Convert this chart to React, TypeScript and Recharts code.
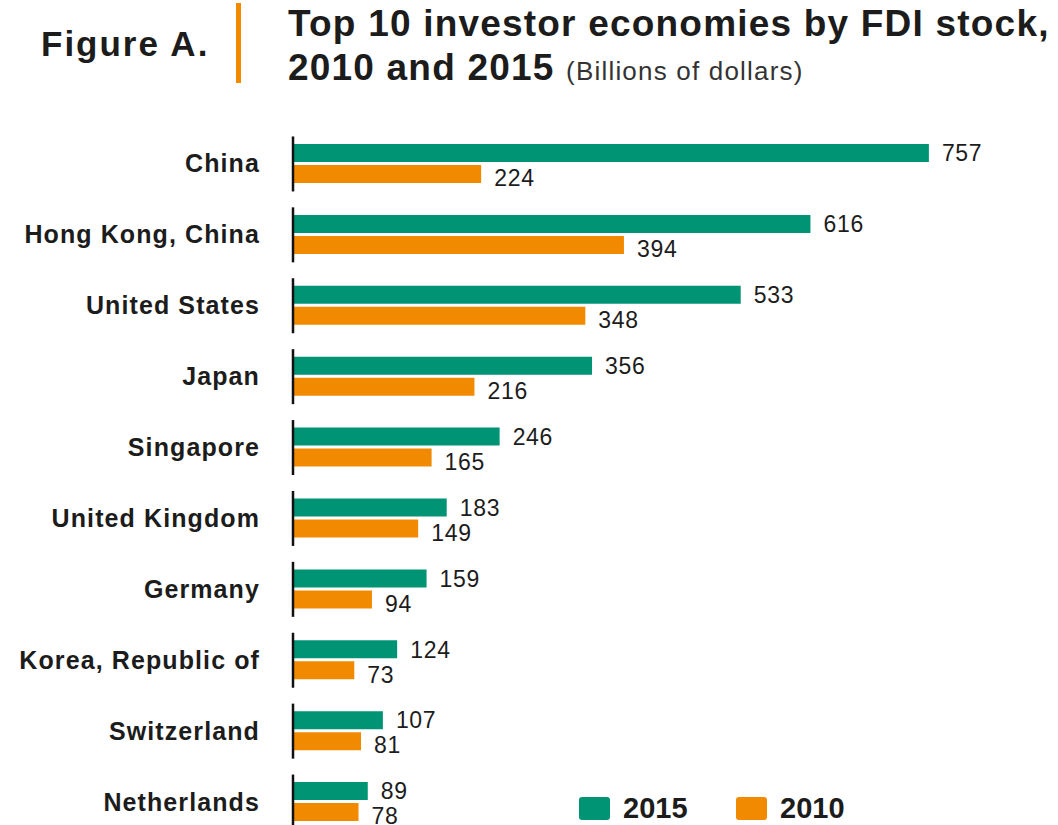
import React from "react";
import { BarChart, Bar, XAxis, YAxis, LabelList } from "recharts";

const economies = [
  "China",
  "Hong Kong, China",
  "United States",
  "Japan",
  "Singapore",
  "United Kingdom",
  "Germany",
  "Korea, Republic of",
  "Switzerland",
  "Netherlands",
];
const stock2015 = [757, 616, 533, 356, 246, 183, 159, 124, 107, 89];
const stock2010 = [224, 394, 348, 216, 165, 149, 94, 73, 81, 78];
const seriesNames = ["2015", "2010"];

const GREEN = "#009474";
const ORANGE = "#F28A00";
const INK = "#1c1c1c";
const FONT = "'Liberation Sans', Arial, Helvetica, sans-serif";
const LABEL_GAP = 33;

const data = economies.map((name, i) => ({
  name,
  y2015: stock2015[i],
  y2010: stock2010[i],
}));

function CategoryTick(props: any) {
  const { x, y, payload } = props;
  const axisX = x + LABEL_GAP;
  return (
    <g>
      <line x1={axisX} x2={axisX} y1={y - 27} y2={y + 28} stroke="#111" strokeWidth={2.5} />
      <text
        x={x}
        y={y}
        dy="0.36em"
        textAnchor="end"
        fontFamily={FONT}
        fontWeight="bold"
        fontSize={25}
        letterSpacing={1.1}
        fill={INK}
      >
        {payload.value}
      </text>
    </g>
  );
}

const valueLabel = (dy: number) => (props: any) => {
  const vb = props.viewBox ?? props;
  const x = (vb.x ?? props.x) as number;
  const y = (vb.y ?? props.y) as number;
  const w = (vb.width ?? props.width) as number;
  const h = (vb.height ?? props.height) as number;
  return (
    <text
      x={x + w + 13}
      y={y + h / 2 + dy}
      dy="0.36em"
      fontFamily={FONT}
      fontSize={23}
      letterSpacing={0.7}
      fill={INK}
    >
      {props.value}
    </text>
  );
};

function LegendBox({ color, label, left }: { color: string; label: string; left: number }) {
  return (
    <div style={{ position: "absolute", left, top: 795, display: "flex", alignItems: "center", lineHeight: "26px" }}>
      <div style={{ width: 31, height: 23, background: color, borderRadius: 3, marginRight: 13 }} />
      <span style={{ fontFamily: FONT, fontWeight: "bold", fontSize: 29, color: INK }}>{label}</span>
    </div>
  );
}

export default function App() {
  return (
    <div
      style={{
        position: "absolute",
        left: 0,
        top: 0,
        width: 1058,
        height: 825,
        overflow: "hidden",
        background: "#fff",
      }}
    >
      <div
        style={{
          position: "absolute",
          left: 41,
          top: 24,
          fontFamily: FONT,
          fontWeight: "bold",
          fontSize: 35,
          letterSpacing: 2,
          color: INK,
        }}
      >
        Figure A.
      </div>
      <div style={{ position: "absolute", left: 236, top: 3, width: 5, height: 80, background: ORANGE }} />
      <div
        style={{
          position: "absolute",
          left: 288,
          top: 2,
          fontFamily: FONT,
          fontWeight: "bold",
          fontSize: 37,
          lineHeight: "44px",
          letterSpacing: 1.2,
          color: INK,
          whiteSpace: "nowrap",
        }}
      >
        Top 10 investor economies by FDI stock,
        <br />
        2010 and 2015{" "}
        <span style={{ fontWeight: "normal", fontSize: 26, letterSpacing: 1.2, color: "#333" }}>
          (Billions of dollars)
        </span>
      </div>

      <div style={{ position: "absolute", left: 0, top: 0 }}>
        <BarChart
          width={1058}
          height={850}
          data={data}
          layout="vertical"
          margin={{ top: 128, right: 9, bottom: 13, left: 0 }}
          barSize={18}
          barGap={3}
        >
          <XAxis type="number" domain={[0, 900]} hide />
          <YAxis
            type="category"
            dataKey="name"
            width={293}
            axisLine={false}
            tickLine={false}
            tickSize={0}
            tickMargin={LABEL_GAP}
            interval={0}
            tick={CategoryTick}
          />
          <Bar dataKey="y2015" name={seriesNames[0]} fill={GREEN} isAnimationActive={false}>
            <LabelList dataKey="y2015" content={valueLabel(0)} />
          </Bar>
          <Bar dataKey="y2010" name={seriesNames[1]} fill={ORANGE} isAnimationActive={false}>
            <LabelList dataKey="y2010" content={valueLabel(4)} />
          </Bar>
        </BarChart>
      </div>

      <LegendBox color={GREEN} label={seriesNames[0]} left={579} />
      <LegendBox color={ORANGE} label={seriesNames[1]} left={736} />
    </div>
  );
}
